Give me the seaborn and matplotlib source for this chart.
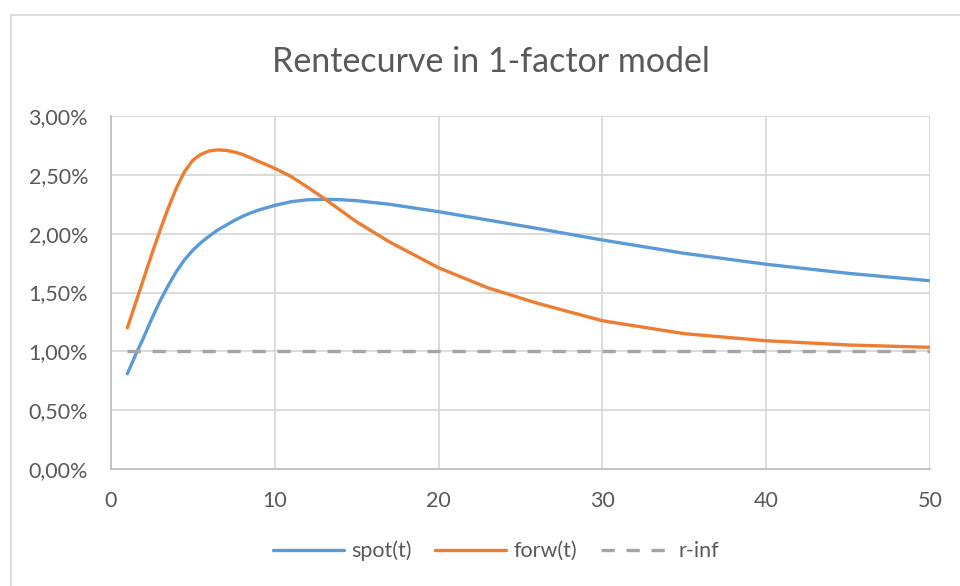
import matplotlib
matplotlib.use("Agg")
import matplotlib.pyplot as plt
import seaborn as sns
import pandas as pd
from matplotlib.ticker import FuncFormatter, MultipleLocator
from matplotlib.lines import Line2D

# Looptijd t (jaren) en rentes in %
t = [1, 1.5, 2, 2.5, 3, 3.5, 4, 4.5, 5, 5.5, 6, 6.5, 7, 7.5, 8, 8.5, 9, 9.5, 10,
     11, 12, 13, 14, 15, 17, 20, 23, 26, 30, 35, 40, 45, 50]
spot = [0.81, 0.97, 1.12, 1.28, 1.43, 1.56, 1.68, 1.78, 1.86, 1.925, 1.98, 2.03, 2.07, 2.11,
        2.145, 2.175, 2.20, 2.22, 2.24, 2.272, 2.288, 2.292, 2.289, 2.28, 2.25, 2.187, 2.116,
        2.045, 1.946, 1.833, 1.74, 1.663, 1.60]
forw = [1.20, 1.41, 1.62, 1.83, 2.03, 2.22, 2.39, 2.53, 2.625, 2.675, 2.703, 2.712, 2.708,
        2.695, 2.675, 2.646, 2.615, 2.585, 2.555, 2.485, 2.395, 2.30, 2.20, 2.10, 1.93, 1.71,
        1.54, 1.41, 1.26, 1.15, 1.09, 1.054, 1.034]
r_inf_level = 1.00
r_inf = [r_inf_level for _ in t]

df = pd.DataFrame({"t": t, "spot(t)": spot, "forw(t)": forw, "r-inf": r_inf})

text_col = "#595959"
sns.set_theme(style="whitegrid")
plt.rcParams["font.family"] = ["Lato", "DejaVu Sans"]

fig = plt.figure(figsize=(9.6, 5.86), dpi=100)
ax = fig.add_axes([111 / 960, 1 - 469 / 586, (930 - 111) / 960, (469 - 116) / 586])

sns.lineplot(data=df, x="t", y="spot(t)", ax=ax, color="#5B9BD5", lw=2.4, label="spot(t)")
sns.lineplot(data=df, x="t", y="forw(t)", ax=ax, color="#ED7D31", lw=2.4, label="forw(t)")
sns.lineplot(data=df, x="t", y="r-inf", ax=ax, color="#A5A5A5", lw=2.4,
             linestyle=(0, (4, 3.5)), label="r-inf")

ax.set_xlim(0, 50)
ax.set_ylim(0, 3)
ax.xaxis.set_major_locator(MultipleLocator(10))
ax.yaxis.set_major_locator(MultipleLocator(0.5))
ax.yaxis.set_major_formatter(FuncFormatter(lambda v, p: f"{v:.2f}%".replace(".", ",")))
ax.set_xlabel("")
ax.set_ylabel("")

ax.set_facecolor("white")
ax.grid(True, color="#d9d9d9", lw=1.3)
for s in ["top", "right"]:
    ax.spines[s].set_visible(False)
for s in ["left", "bottom"]:
    ax.spines[s].set_color("#bfbfbf")
    ax.spines[s].set_linewidth(1.3)
ax.tick_params(axis="both", length=0, labelsize=15.5, colors=text_col)
ax.tick_params(axis="x", pad=16)
ax.tick_params(axis="y", pad=16.5)

fig.suptitle("Rentecurve in 1-factor model", x=491 / 960, y=1 - 62 / 586,
             va="center", fontsize=24.5, color=text_col)

handles, labels = ax.get_legend_handles_labels()
ax.get_legend().remove()
fig.legend(handles, labels, loc="center", bbox_to_anchor=(496 / 960, 1 - 551 / 586),
           ncol=3, frameon=False, handlelength=3.3, handletextpad=0.33,
           columnspacing=1.1, fontsize=15.5, labelcolor=text_col)

# kader van het grafiekgebied
fig.add_artist(Line2D([11 / 960, 1], [1 - 15 / 586, 1 - 15 / 586],
                      transform=fig.transFigure, color="#d9d9d9", lw=1.3))
fig.add_artist(Line2D([11 / 960, 11 / 960], [0, 1 - 15 / 586],
                      transform=fig.transFigure, color="#d9d9d9", lw=1.3))

fig.savefig("out.png", dpi=100, facecolor="white")
